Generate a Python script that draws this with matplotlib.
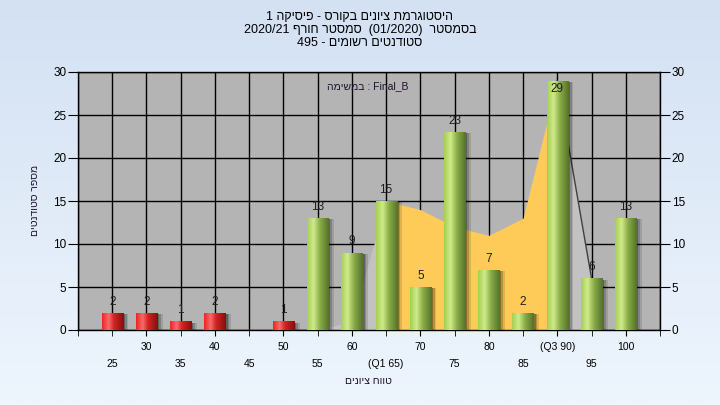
import numpy as np
import matplotlib
matplotlib.use('Agg')
import matplotlib.pyplot as plt
from matplotlib.colors import LinearSegmentedColormap

plt.rcParams['font.family'] = ['Liberation Sans', 'DejaVu Sans']

# histogram data
grades = [25, 30, 35, 40, 45, 50, 55, 60, 65, 70, 75, 80, 85, 90, 95, 100]
counts = [2, 2, 1, 2, 0, 1, 13, 9, 15, 5, 23, 7, 2, 29, 6, 13]
pass_grade = 55

# background area series (orange between quartiles)
area_x = [55, 60, 65, 70, 75, 80, 85, 90, 95]
area_y = [0, 1, 15, 14, 12, 11, 13, 29, 6]
q1, q3 = 65, 90

upper_ticks = [30, 40, 50, 60, 70, 80, 90, 100]
upper_labels = ['30', '40', '50', '60', '70', '80', '(Q3 90)', '100']
lower_ticks = [20, 25, 35, 45, 55, 65, 75, 85, 95, 105]
lower_labels = ['', '25', '35', '45', '55', '(Q1 65)', '75', '85', '95', '']
y_ticks = [0, 5, 10, 15, 20, 25, 30]
y_max = 30


def rtl(s):
    # matplotlib has no bidi, so hebrew runs are written reversed
    return s[::-1]


title1 = '1 ' + rtl('היסטוגרמת ציונים בקורס - פיסיקה')
title2 = '2020/21 ' + rtl('סמסטר חורף') + '  (01/2020)  ' + rtl('בסמסטר')
title3 = '495 - ' + rtl('סטודנטים רשומים')
note = rtl('במשימה') + ' : Final_B'
xlabel = rtl('טווח ציונים')
ylabel = rtl('מספר סטודנטים')

fig = plt.figure(figsize=(7.2, 4.05), dpi=100)

# figure background gradient
bg = fig.add_axes([0, 0, 1, 1], zorder=-10)
bg_cmap = LinearSegmentedColormap.from_list('bg', ['#d3e1f3', '#eef5fd'])
bg.imshow(np.linspace(0, 1, 256).reshape(-1, 1), cmap=bg_cmap, aspect='auto',
          extent=[0, 1, 0, 1])
bg.axis('off')

ax = fig.add_axes([78 / 720, 75 / 405, 582 / 720, 258 / 405])
ax.set_facecolor('#b4b4b4')
ax.set_axisbelow(True)

# area series
ax_arr = np.array(area_x)
ay_arr = np.array(area_y)
ax.fill_between(ax_arr, ay_arr, where=ax_arr <= q1, color='#c2c2c2', lw=0, zorder=1)
ax.fill_between(ax_arr, ay_arr, where=ax_arr >= q3, color='#c2c2c2', lw=0, zorder=1)
ax.fill_between(ax_arr, ay_arr, where=(ax_arr >= q1) & (ax_arr <= q3),
                color='#fecb58', lw=0, zorder=1.1)
ax.plot(ax_arr[ax_arr >= q3], ay_arr[ax_arr >= q3], color='#404040', lw=1, zorder=1.2)

bar_w = 3.1
# shadows
for off, a in [(0.3, 0.25), (0.55, 0.18), (0.8, 0.12)]:
    ax.bar(np.array(grades) + off, np.array(counts) - 0.15, width=bar_w,
           color='black', alpha=a, lw=0, zorder=2)

green = LinearSegmentedColormap.from_list(
    'g', [(0, '#a6cf52'), (0.3, '#d0ea8a'), (0.6, '#88ac46'), (1, '#55722a')])
red = LinearSegmentedColormap.from_list(
    'r', [(0, '#f02424'), (0.3, '#f66c6c'), (0.55, '#d02424'), (1, '#861010')])
grad = np.linspace(0, 1, 64).reshape(1, -1)

bars = ax.bar(grades, counts, width=bar_w, color='none', lw=0, zorder=3)
for rect, g, c in zip(bars, grades, counts):
    if c == 0:
        continue
    cmap = green if g >= pass_grade else red
    im = ax.imshow(grad, cmap=cmap, aspect='auto', zorder=3,
                   extent=[rect.get_x(), rect.get_x() + rect.get_width(), 0, c])
    im.set_clip_path(rect)
    # label above the bar, or just inside it when there is no room
    ly = c + 1.3 if c + 2 <= y_max else c - 1.0
    ax.text(g, ly, str(c), ha='center', va='center', fontsize=8.5,
            color='#1e1e1e', zorder=4)

ax.set_xlim(20, 105)
ax.set_ylim(0, y_max)

ax.set_xticks(upper_ticks)
ax.set_xticklabels(upper_labels)
ax.set_xticks(lower_ticks, minor=True)
ax.set_xticklabels(lower_labels, minor=True)
ax.set_yticks(y_ticks)

ax.tick_params(axis='x', which='major', length=4, pad=5, labelsize=7.5, color='black')
ax.tick_params(axis='x', which='minor', length=4, pad=17, labelsize=7.5, color='black')
ax.tick_params(axis='y', length=7, pad=1.5, labelsize=8.5, right=True, labelright=True)

ax.grid(True, which='both', color='black', lw=1)
for s in ax.spines.values():
    s.set_color('black')
    s.set_linewidth(1)

fig.text(0.5, 1 - 17 / 405, title1, ha='center', va='center', fontsize=9)
fig.text(0.5, 1 - 30 / 405, title2, ha='center', va='center', fontsize=9)
fig.text(0.5, 1 - 43 / 405, title3, ha='center', va='center', fontsize=9)
fig.text(368 / 720, 1 - 86 / 405, note, ha='center', va='center', fontsize=7.5,
         color='#201030')
fig.text(368 / 720, 1 - 381 / 405, xlabel, ha='center', va='center', fontsize=7.5,
         color='#201030')
fig.text(35 / 720, 1 - 200 / 405, ylabel, ha='center', va='center', fontsize=7.5,
         rotation=90, color='#201030')

fig.savefig('out.png', dpi=100)
